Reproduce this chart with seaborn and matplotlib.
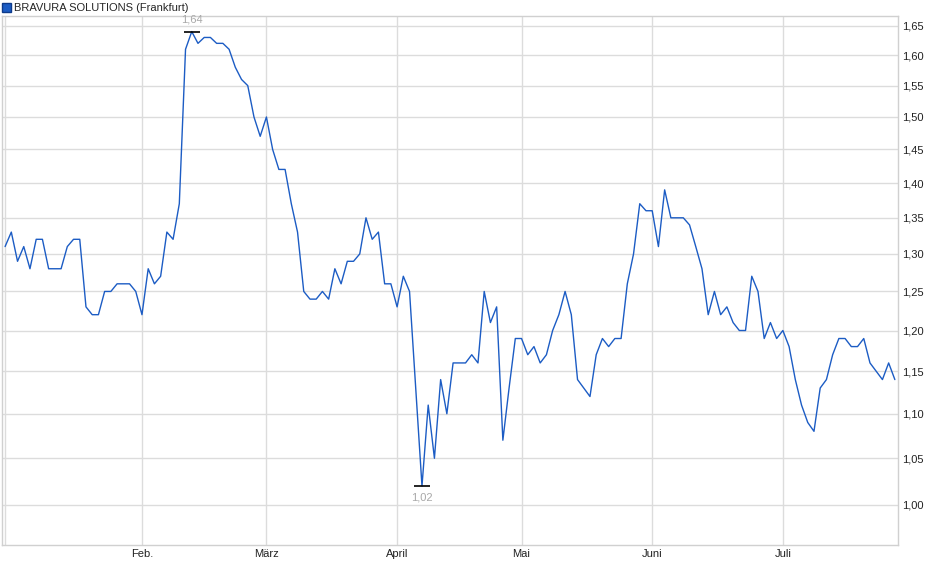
import matplotlib
matplotlib.use("Agg")
import matplotlib.pyplot as plt
import matplotlib.ticker as mticker
from matplotlib.patches import Patch
import seaborn as sns
import pandas as pd

# daily closing prices (Frankfurt), one value per trading day
prices = [
    1.31, 1.33, 1.29, 1.31, 1.28, 1.32, 1.32, 1.28, 1.28, 1.28,
    1.31, 1.32, 1.32, 1.23, 1.22, 1.22, 1.25, 1.25, 1.26, 1.26,
    1.26, 1.25, 1.22, 1.28, 1.26, 1.27, 1.33, 1.32, 1.37, 1.61,
    1.64, 1.62, 1.63, 1.63, 1.62, 1.62, 1.61, 1.58, 1.56, 1.55,
    1.50, 1.47, 1.50, 1.45, 1.42, 1.42, 1.37, 1.33, 1.25, 1.24,
    1.24, 1.25, 1.24, 1.28, 1.26, 1.29, 1.29, 1.30, 1.35, 1.32,
    1.33, 1.26, 1.26, 1.23, 1.27, 1.25, 1.13, 1.02, 1.11, 1.05,
    1.14, 1.10, 1.16, 1.16, 1.16, 1.17, 1.16, 1.25, 1.21, 1.23,
    1.07, 1.13, 1.19, 1.19, 1.17, 1.18, 1.16, 1.17, 1.20, 1.22,
    1.25, 1.22, 1.14, 1.13, 1.12, 1.17, 1.19, 1.18, 1.19, 1.19,
    1.26, 1.30, 1.37, 1.36, 1.36, 1.31, 1.39, 1.35, 1.35, 1.35,
    1.34, 1.31, 1.28, 1.22, 1.25, 1.22, 1.23, 1.21, 1.20, 1.20,
    1.27, 1.25, 1.19, 1.21, 1.19, 1.20, 1.18, 1.14, 1.11, 1.09,
    1.08, 1.13, 1.14, 1.17, 1.19, 1.19, 1.18, 1.18, 1.19, 1.16,
    1.15, 1.14, 1.16, 1.14,
]

# first trading day of each month (index into prices) and its label
month_starts = [0, 22, 42, 63, 83, 104, 125]
month_labels = ["", "Feb.", "März", "April", "Mai", "Juni", "Juli"]

y_ticks = [1.00, 1.05, 1.10, 1.15, 1.20, 1.25, 1.30, 1.35, 1.40, 1.45, 1.50, 1.55, 1.60, 1.65]

series_name = "BRAVURA SOLUTIONS (Frankfurt)"
line_color = "#1c5cc4"
grid_color = "#dcdcdc"

df = pd.DataFrame({"day": range(len(prices)), "price": prices})

sns.set_style("white")
plt.rcParams["font.family"] = ["Liberation Sans", "DejaVu Sans"]

fig = plt.figure(figsize=(9.4, 5.79), dpi=100)
ax = fig.add_axes([0.0021, 0.0587, 0.9532, 0.9137])

sns.lineplot(data=df, x="day", y="price", color=line_color, linewidth=1.0, ax=ax)

ax.set_yscale("log")
ax.set_ylim(0.959, 1.667)
ax.set_xlim(-0.5, 143.5)

ax.yaxis.set_major_locator(mticker.FixedLocator(y_ticks))
ax.yaxis.set_minor_locator(mticker.NullLocator())
ax.yaxis.set_major_formatter(
    mticker.FuncFormatter(lambda v, _: f"{v:.2f}".replace(".", ",")))
ax.yaxis.tick_right()
ax.set_xticks(month_starts)
ax.set_xticklabels(month_labels)
ax.tick_params(axis="both", length=0, labelsize=8, colors="#222222")
ax.tick_params(axis="y", pad=3)
ax.tick_params(axis="x", pad=3)

ax.grid(True, color=grid_color, linewidth=1.0)
ax.set_axisbelow(True)
for sp in ax.spines.values():
    sp.set_color("#d0d0d0")
    sp.set_linewidth(1.0)
ax.set_xlabel("")
ax.set_ylabel("")

# high / low markers
hi = df.loc[df["price"].idxmax()]
lo = df.loc[df["price"].idxmin()]
for row, off, va in [(hi, 5, "bottom"), (lo, -5, "top")]:
    ax.plot(row["day"], row["price"], marker="_", markersize=11,
            markeredgewidth=1.2, color="black")
    ax.annotate(f"{row['price']:.2f}".replace(".", ","),
                (row["day"], row["price"]), xytext=(0, off),
                textcoords="offset points", ha="center", va=va,
                fontsize=8, color="#a8a8a8")

fig.legend(handles=[Patch(facecolor=line_color, edgecolor="#0e3a8a")],
           labels=[series_name], loc="upper left", bbox_to_anchor=(0.0, 0.998),
           frameon=False, fontsize=8, handlelength=0.75, handleheight=0.75,
           handletextpad=0.35, borderaxespad=0.1, borderpad=0.1)

fig.savefig("out.png", dpi=100)
